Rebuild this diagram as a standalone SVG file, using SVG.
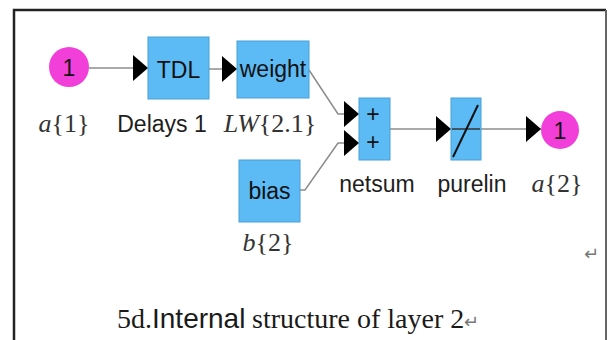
<svg xmlns="http://www.w3.org/2000/svg" width="610" height="340" viewBox="0 0 610 340">
  <style>
    .blk { fill: #5cbaf5; stroke: #4b9fd6; stroke-width: 1; }
    .sig { fill: #f23fd9; }
    .wire { fill: none; stroke: #8c8c8c; stroke-width: 1.5; }
    .lbl { font-family: "Liberation Sans", Arial, sans-serif; font-size: 23px; fill: #1e1e1e; text-anchor: middle; }
    .in { font-family: "Liberation Sans", Arial, sans-serif; font-size: 23px; fill: #111; text-anchor: middle; }
    .math { font-family: "Liberation Serif", "DejaVu Serif", serif; font-size: 26px; fill: #333; text-anchor: middle; }
    .it { font-style: italic; }
    .cap { font-family: "Liberation Serif", "Times New Roman", serif; font-size: 28px; fill: #1a1a1a; }
    .capsans { font-family: "Liberation Sans", Arial, sans-serif; }
  </style>
  <defs>
    <marker id="head" markerUnits="userSpaceOnUse" markerWidth="15" markerHeight="26" refX="15" refY="13" orient="auto">
      <path d="M0,0 L15,13 L0,26 Z" fill="#000"/>
    </marker>
  </defs>

  <rect x="0" y="0" width="610" height="340" fill="#fff"/>
  <!-- frame: open at the bottom -->
  <path d="M14,342 V10 H606" fill="none" stroke="#222" stroke-width="2.5"/>
  <path d="M606,10 V342" fill="none" stroke="#666" stroke-width="2"/>

  <g id="connectors">
    <line class="wire" x1="89" y1="68" x2="148" y2="68" marker-end="url(#head)"/>
    <line class="wire" x1="209" y1="69" x2="237" y2="69" marker-end="url(#head)"/>
    <polyline class="wire" points="309,70 338,114 359,114" marker-end="url(#head)"/>
    <polyline class="wire" points="300,190 305,190 338,143 359,143" marker-end="url(#head)"/>
    <line class="wire" x1="390" y1="129" x2="451" y2="129" marker-end="url(#head)"/>
    <line class="wire" x1="481" y1="129" x2="541" y2="129" marker-end="url(#head)"/>
  </g>

  <g id="input-a1">
    <circle class="sig" cx="69" cy="67" r="20"/>
    <text class="in" x="69" y="76" font-size="24">1</text>
    <text class="math" x="64" y="132"><tspan class="it">a</tspan>{1}</text>
  </g>

  <g id="tdl">
    <rect class="blk" x="148" y="37" width="61" height="62"/>
    <text class="in" x="178.5" y="78" font-size="25">TDL</text>
    <text class="lbl" x="162" y="132">Delays 1</text>
  </g>

  <g id="weight">
    <rect class="blk" x="237" y="41" width="72" height="57"/>
    <text class="in" x="273" y="77">weight</text>
    <text class="math" x="270" y="132"><tspan class="it">LW</tspan>{2.1}</text>
  </g>

  <g id="bias">
    <rect class="blk" x="239" y="160" width="61" height="62"/>
    <text class="in" x="269.5" y="199">bias</text>
    <text class="math" x="268" y="251"><tspan class="it">b</tspan>{2}</text>
  </g>

  <g id="netsum">
    <rect class="blk" x="359" y="98" width="31" height="62"/>
    <text class="in" x="373" y="122">+</text>
    <text class="in" x="373" y="150">+</text>
    <text class="lbl" x="377" y="192">netsum</text>
  </g>

  <g id="purelin">
    <rect class="blk" x="451" y="98" width="30" height="62"/>
    <line x1="452" y1="129" x2="480" y2="129" stroke="#333" stroke-width="1.5"/>
    <line x1="453" y1="157" x2="478" y2="105" stroke="#111" stroke-width="2"/>
    <text class="lbl" x="472" y="192">purelin</text>
  </g>

  <g id="output-a2">
    <circle class="sig" cx="560" cy="130" r="19"/>
    <text class="in" x="560" y="139" font-size="24">1</text>
    <text class="math" x="557" y="192"><tspan class="it">a</tspan>{2}</text>
  </g>

  <text x="584" y="260" font-family="DejaVu Sans, sans-serif" font-size="18" fill="#777">↵</text>

  <text class="cap" x="117" y="328">5d.<tspan class="capsans">Internal</tspan><tspan x="252">structure of layer 2</tspan><tspan fill="#777" font-size="18">↵</tspan></text>
</svg>
